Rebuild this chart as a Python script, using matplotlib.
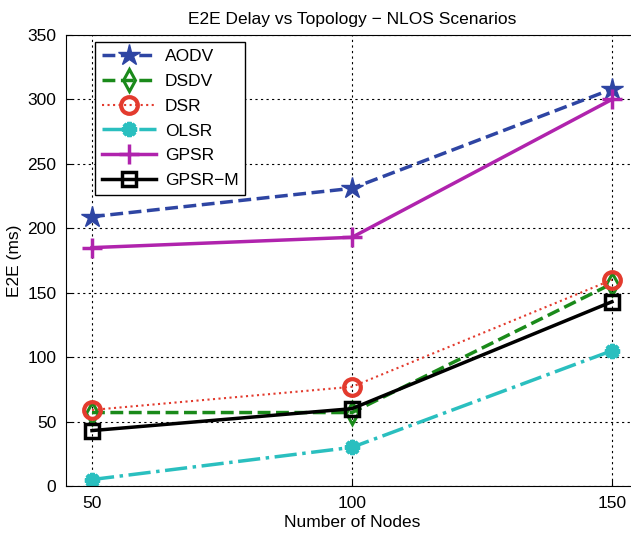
import matplotlib
matplotlib.use("Agg")
import matplotlib.pyplot as plt

plt.rcParams['font.family'] = ['Liberation Sans', 'DejaVu Sans']

nodes = [50, 100, 150]
aodv = [209, 231, 308]
dsdv = [57, 57, 157]
dsr = [59, 77, 160]
olsr = [5, 30, 105]
gpsr = [185, 193, 300]
gpsr_m = [43, 60, 143]

fig = plt.figure(figsize=(6.31, 5.33), dpi=100)
ax = fig.add_axes([0.1046, 0.0882, 0.9064, 0.8461])

ax.plot(nodes, aodv, '--', color='#2e45a3', lw=2.5, marker='*', ms=16, label='AODV')
ax.plot(nodes, dsdv, '--', color='#1a8a1a', lw=2.5, marker='d', ms=11,
        mfc='none', mew=2.2, label='DSDV')
ax.plot(nodes, dsr, ':', color='#e33b2e', lw=1.5, marker='o', ms=12,
        mfc='none', mew=3, label='DSR')
ax.plot(nodes, olsr, '-.', color='#2abfbf', lw=2.5, marker=(8, 2, 0), ms=11, mew=3,
        label='OLSR')
ax.plot(nodes, gpsr, '-', color='#b023ad', lw=2.5, marker='+', ms=15, mew=2.5, label='GPSR')
ax.plot(nodes, gpsr_m, '-', color='black', lw=2.5, marker='s', ms=10,
        mfc='none', mew=2.5, label='GPSR\u2212M')

ax.set_xlim(45, 155)
ax.set_ylim(0, 350)
ax.set_xticks(nodes)
ax.set_yticks(range(0, 351, 50))
ax.tick_params(direction='in', labelsize=12.5, length=4, pad=7)
ax.spines['right'].set_visible(False)
ax.grid(True, color='black', linestyle=(0, (2, 3)), linewidth=0.8)

ax.set_xlabel('Number of Nodes', fontsize=12.5, labelpad=3)
ax.set_ylabel('E2E (ms)', fontsize=12.5, labelpad=4)
ax.set_title('E2E Delay vs Topology \u2212 NLOS Scenarios', fontsize=12.5, pad=8)

leg = ax.legend(loc='upper left', bbox_to_anchor=(0.036, 1.003), fontsize=12.5,
                handlelength=3.1, fancybox=False, framealpha=1,
                edgecolor='black', borderpad=0.4, labelspacing=0.55,
                handletextpad=0.5)
leg.get_frame().set_linewidth(1)

fig.savefig('out.png', dpi=100)
